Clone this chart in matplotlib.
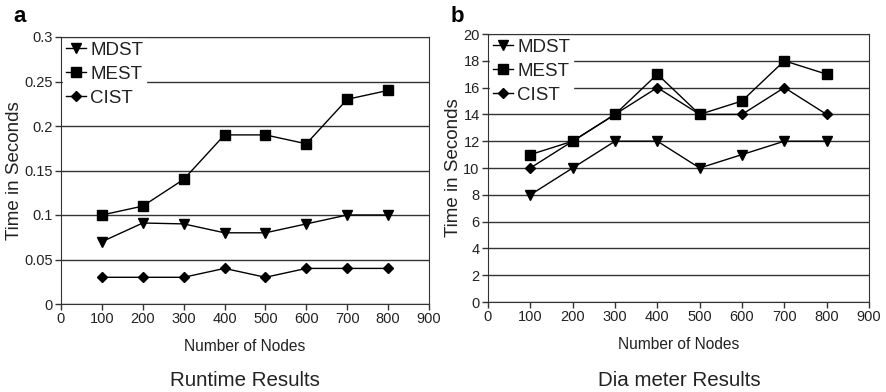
import matplotlib
matplotlib.use('Agg')
import matplotlib.pyplot as plt

plt.rcParams['font.family'] = ['Liberation Sans', 'DejaVu Sans']

nodes = [100, 200, 300, 400, 500, 600, 700, 800]

# runtime (seconds)
rt_mdst = [0.07, 0.091, 0.09, 0.08, 0.08, 0.09, 0.10, 0.10]
rt_mest = [0.10, 0.11, 0.14, 0.19, 0.19, 0.18, 0.23, 0.24]
rt_cist = [0.03, 0.03, 0.03, 0.04, 0.03, 0.04, 0.04, 0.04]

# diameter
dm_mdst = [8, 10, 12, 12, 10, 11, 12, 12]
dm_mest = [11, 12, 14, 17, 14, 15, 18, 17]
dm_cist = [10, 12, 14, 16, 14, 14, 16, 14]

txt = '#222222'

fig = plt.figure(figsize=(8.87, 3.92), dpi=100)
W, H = 887, 392
ax1 = fig.add_axes([61 / W, 1 - 304 / H, (429 - 61) / W, (304 - 37) / H])
ax2 = fig.add_axes([488 / W, 1 - 302 / H, (869 - 488) / W, (302 - 34) / H])


def draw(ax, mdst, mest, cist, yticks, ylabels, ymax):
    ax.plot(nodes, mdst, color='black', lw=1, marker='v', ms=7, label='MDST')
    ax.plot(nodes, mest, color='black', lw=1, marker='s', ms=7, label='MEST')
    ax.plot(nodes, cist, color='black', lw=1, marker='D', ms=5, label='CIST')
    ax.set_xlim(0, 900)
    ax.set_ylim(0, ymax)
    ax.set_xticks(range(0, 1000, 100))
    ax.set_yticks(yticks)
    ax.set_yticklabels(ylabels)
    ax.grid(axis='y', color='#333333', lw=1)
    ax.set_axisbelow(True)
    for s in ax.spines.values():
        s.set_color('#333333')
    ax.tick_params(colors='#333333', labelcolor=txt, labelsize=10.5,
                   length=4, width=1, pad=2)
    ax.set_xlabel('Number of Nodes', fontsize=11.2, color=txt, labelpad=9)
    ax.set_ylabel('Time in Seconds', fontsize=13.5, color=txt, labelpad=1)
    leg = ax.legend(loc='upper left', frameon=True, fontsize=13.5,
                    handlelength=1.1, handletextpad=0.2, labelspacing=0.36,
                    borderaxespad=0.1, borderpad=0.15, fancybox=False)
    leg.get_frame().set_edgecolor('white')
    leg.get_frame().set_facecolor('white')
    leg.get_frame().set_alpha(1)
    for t in leg.get_texts():
        t.set_color(txt)


draw(ax1, rt_mdst, rt_mest, rt_cist,
     [0, 0.05, 0.1, 0.15, 0.2, 0.25, 0.3],
     ['0', '0.05', '0.1', '0.15', '0.2', '0.25', '0.3'], 0.3)
draw(ax2, dm_mdst, dm_mest, dm_cist,
     list(range(0, 22, 2)), [str(v) for v in range(0, 22, 2)], 20)

fig.text(13 / W, 1 - 16 / H, 'a', fontsize=16, fontweight='bold', va='center')
fig.text(451 / W, 1 - 16 / H, 'b', fontsize=16, fontweight='bold', va='center')
fig.text(245 / W, 1 - 380 / H, 'Runtime Results', fontsize=14.8, color=txt,
         ha='center', va='center')
fig.text(679 / W, 1 - 380 / H, 'Dia meter Results', fontsize=14.8, color=txt,
         ha='center', va='center')

fig.savefig('out.png', dpi=100)
